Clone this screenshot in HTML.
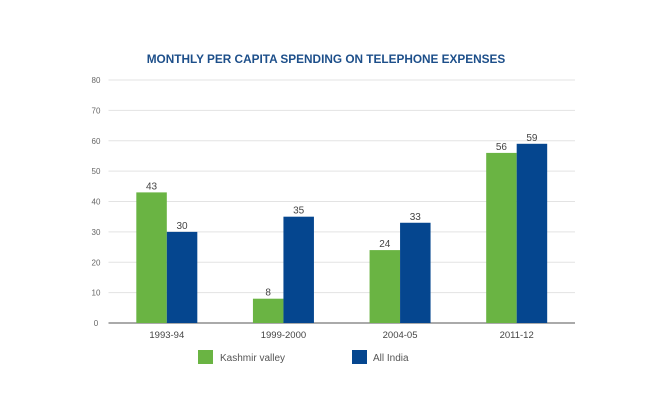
<!DOCTYPE html>
<html><head><meta charset="utf-8"><style>
body{margin:0;background:#fff;}
svg text{font-family:"Liberation Sans",sans-serif;}
</style></head><body>
<svg id="chart" width="652" height="414" xmlns="http://www.w3.org/2000/svg">
<text x="326" y="63" text-anchor="middle" font-size="11.8" font-weight="bold" fill="#1d4f8a">MONTHLY PER CAPITA SPENDING ON TELEPHONE EXPENSES</text>
<g id="grid"></g><g id="bars"></g>
<g>
<rect x="198" y="350" width="15" height="14" fill="#6ab443"/>
<text x="220" y="361" font-size="10" fill="#555">Kashmir valley</text>
<rect x="352" y="350" width="15" height="14" fill="#05468f"/>
<text x="373" y="361" font-size="10" fill="#555">All India</text>
</g>
</svg>
<script>
const categories=["1993-94","1999-2000","2004-05","2011-12"];
const kashmir=[43,8,24,56];
const india=[30,35,33,59];
const ticks=[0,10,20,30,40,50,60,70,80];
const NS="http://www.w3.org/2000/svg";
const x0=108.5,x1=575,y0=323,y1=80,maxV=80;
const y=v=>y0-(v/maxV)*(y0-y1);
const band=(x1-x0)/categories.length;
const bw=30.5;
function mk(t,a,p){const e=document.createElementNS(NS,t);for(const k in a)e.setAttribute(k,a[k]);p.appendChild(e);return e;}
const g=document.getElementById('grid'),b=document.getElementById('bars');
ticks.forEach(t=>{
 const l=mk('line',{x1:x0,x2:x1,y1:y(t),y2:y(t),stroke:t===0?'#555':'#e3e3e3','stroke-width':1},g);
 
 
 const tx=mk('text',{x:96,y:y(t)+3,'text-anchor':'middle','font-size':8,fill:'#666'},g);
 tx.textContent=t;
 
 
});
categories.forEach((c,i)=>{
 const cx=x0+band*(i+0.5);
 [[kashmir[i],'#6ab443',cx-bw,'bar-kashmir'],[india[i],'#05468f',cx,'bar-india']].forEach(([v,col,bx,nm])=>{
  const r=mk('rect',{x:bx,y:y(v),width:bw,height:y0-y(v),fill:col},b);
  
  
  const t=mk('text',{x:bx+bw/2,y:y(v)-3,'text-anchor':'middle','font-size':10,fill:'#444'},b);
  t.textContent=v;
  
  
 });
 const lt=mk('text',{x:cx,y:338,'text-anchor':'middle','font-size':9.5,fill:'#444'},b);
 lt.textContent=c;
 
 
});
</script>
</body></html>
